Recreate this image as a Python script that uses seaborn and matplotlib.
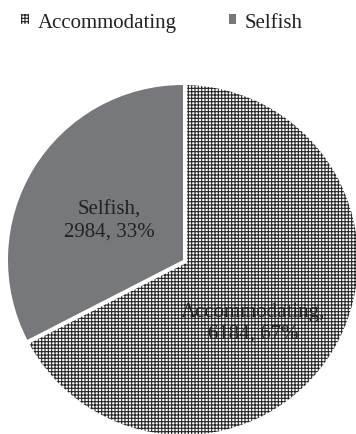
import matplotlib
matplotlib.use("Agg")
import matplotlib.pyplot as plt
import matplotlib.patheffects as pe
import seaborn as sns

categories = ["Accommodating", "Selfish"]
counts = [6184, 2984]
colors = ["white", "#77787b"]
hatches = ["+++++", ""]
hatch_ink = "#262626"

sns.set_theme(style="white")
plt.rcParams["font.family"] = ["Liberation Serif", "DejaVu Serif"]
plt.rcParams["hatch.linewidth"] = 0.8
plt.rcParams["hatch.color"] = hatch_ink
plt.rcParams["patch.edgecolor"] = hatch_ink

W, H = 356, 435
fig = plt.figure(figsize=(W / 100, H / 100), dpi=100)
cx, cy, r = 183, 261, 175
ax = fig.add_axes([(cx - r) / W, (H - cy - r) / H, 2 * r / W, 2 * r / H])

total = sum(counts)
labels = [f"{c},\n{v}, {round(100 * v / total)}%" for c, v in zip(categories, counts)]

wedges, texts = ax.pie(
    counts, labels=labels, colors=colors, startangle=90, counterclock=False,
    labeldistance=0.53,
    wedgeprops=dict(linewidth=0),
    textprops=dict(fontsize=15, color="#222222", ha="center", va="center",
                   linespacing=1.2),
)
for w, h in zip(wedges, hatches):
    w.set_hatch(h)
    if hasattr(w, "set_hatchcolor"):
        w.set_hatchcolor(hatch_ink)
    # white separator between the slices
    w.set_path_effects([pe.Stroke(linewidth=6, foreground="white"), pe.Normal()])

# nudge the data labels slightly towards the lower left
label_nudges = [(-0.05, -0.08), (0.03, -0.05)]
for t, (dx, dy) in zip(texts, label_nudges):
    x, y = t.get_position()
    t.set_position((x + dx, y + dy))

ax.set_xlim(-1, 1)
ax.set_ylim(-1, 1)
ax.set_aspect("equal")
ax.axis("off")

leg = fig.legend(wedges, categories, loc="upper center", bbox_to_anchor=(0.455, 1.012),
                 ncol=2, frameon=False, fontsize=15, handlelength=0.38, handleheight=0.3,
                 handletextpad=0.4, columnspacing=2.5, labelcolor="#222222")
for h in leg.legend_handles:
    h.set_path_effects([])
    h.set_linewidth(0)

fig.savefig("out.png", dpi=100)
